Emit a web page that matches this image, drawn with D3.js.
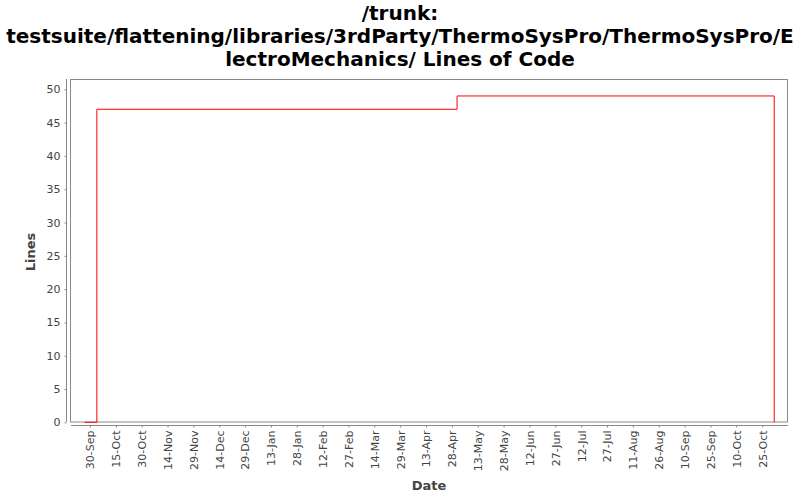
<!DOCTYPE html>
<html><head><meta charset="utf-8">
<script src="https://cdn.jsdelivr.net/npm/d3@7"></script>
<style>body{margin:0;background:#fff}svg{display:block}</style>
</head><body>
<svg id="c" width="800" height="500"></svg>
<script>
const titleLines = ["/trunk:", "testsuite/flattening/libraries/3rdParty/ThermoSysPro/ThermoSysPro/E", "lectroMechanics/ Lines of Code"];
const dates = ["2009-09-27", "2009-10-04", "2010-05-01", "2010-11-01"];
const lines = [0, 47, 49, 0];
const yTicks = [0, 5, 10, 15, 20, 25, 30, 35, 40, 45, 50];
const xTickStart = "2009-09-30";
const xTickCount = 27;
const xLabel = "Date", yLabel = "Lines";

const parse = d3.timeParse("%Y-%m-%d");
const svg = d3.select("#c");
const L = 71, R = 788, T = 79, B = 422;
const x = d3.scaleTime().domain([parse("2009-09-19"), parse("2010-11-09")]).range([L, R]);
const y = d3.scaleLinear().domain([0, 50]).range([422.3, 89.3]);

// title
svg.append("g").selectAll("text").data(titleLines).join("text")
  .attr("x", 400).attr("y", (d, i) => 20 + i * 23)
  .attr("text-anchor", "middle").attr("font-family", "DejaVu Sans")
  .attr("font-weight", "bold").attr("font-size", 20).attr("fill", "#000").text(d => d);

// plot box
svg.append("rect").attr("x", L - 0.5).attr("y", T + 0.5).attr("width", R - L).attr("height", B - T - 0.5)
  .attr("fill", "#fff").attr("stroke", "#888").attr("stroke-width", 1);

// y axis
const ya = svg.append("g").attr("transform", "translate(66.5,0)")
  .call(d3.axisLeft(y).tickValues(yTicks).tickSize(2).tickPadding(4));
ya.select(".domain").attr("stroke", "#888").attr("d", `M0,${T}V${B}`);
ya.selectAll(".tick line").attr("stroke", "#888");
ya.selectAll("text").attr("font-family", "DejaVu Sans").attr("font-size", 11).attr("fill", "#444");

// x axis
const start = parse(xTickStart);
const xTicks = d3.range(xTickCount).map(i => d3.timeDay.offset(start, i * 15));
const xa = svg.append("g").attr("transform", "translate(0,425.5)")
  .call(d3.axisBottom(x).tickValues(xTicks).tickFormat(d3.timeFormat("%-d-%b")).tickSize(2).tickPadding(3));
xa.select(".domain").attr("stroke", "#888").attr("d", `M${L},0H${R}`);
xa.selectAll(".tick line").attr("stroke", "#888");
xa.selectAll("text").attr("font-family", "DejaVu Sans").attr("font-size", 11).attr("fill", "#444")
  .attr("transform", "rotate(-90)").attr("text-anchor", "end").attr("dx", "-5").attr("y", 0).attr("x", 0)
  .attr("dy", "0.35em");

// labels
svg.append("text").attr("x", 429).attr("y", 490).attr("text-anchor", "middle")
  .attr("font-family", "DejaVu Sans").attr("font-weight", "bold").attr("font-size", 13).attr("fill", "#444").text(xLabel);
svg.append("text").attr("transform", "translate(35,252) rotate(-90)").attr("text-anchor", "middle")
  .attr("font-family", "DejaVu Sans").attr("font-weight", "bold").attr("font-size", 13).attr("fill", "#444").text(yLabel);

// line
const data = dates.map((d, i) => ({ d: parse(d), v: lines[i] }));
svg.append("path").datum(data)
  .attr("d", d3.line().x(d => x(d.d)).y(d => y(d.v)).curve(d3.curveStepAfter))
  .attr("fill", "none").attr("stroke", "red").attr("stroke-width", 1);
</script>
</body></html>
